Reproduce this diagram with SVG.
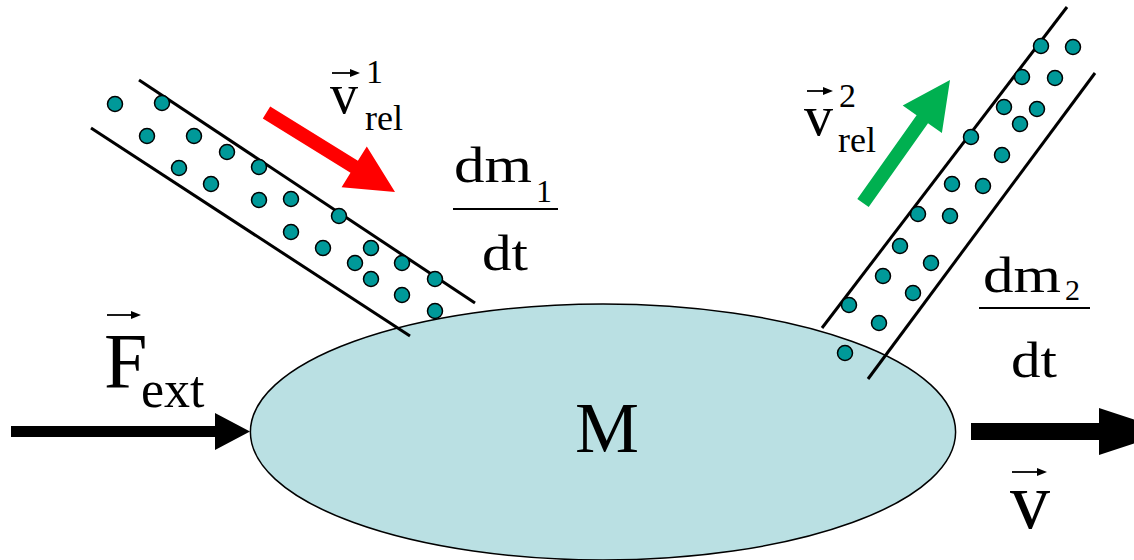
<svg xmlns="http://www.w3.org/2000/svg" width="1134" height="560" viewBox="0 0 1134 560">
<style>
text{font-family:'Liberation Serif','Tinos','Times New Roman','Times','Nimbus Roman','FreeSerif','Noto Serif','DejaVu Serif',serif;fill:#000}
.tube{stroke:#000;stroke-width:3;fill:none}
.dot{fill:#009999;stroke:#000;stroke-width:1.5}
.vec{stroke:#000;stroke-width:1.8;fill:none}
.vh{fill:#000}
</style>
<rect width="1134" height="560" fill="#fff"/>
<g id="mass">
<ellipse cx="603" cy="432" rx="352.6" ry="128" fill="#BAE0E3" stroke="#000" stroke-width="1.5"/>
<text x="607" y="452" font-size="72" text-anchor="middle">M</text>
</g>
<g id="tube1">
<line class="tube" x1="139" y1="80" x2="475" y2="303"/>
<line class="tube" x1="91" y1="128" x2="410" y2="336"/>
<circle class="dot" cx="115" cy="104" r="7.5"/>
<circle class="dot" cx="162" cy="103" r="7.5"/>
<circle class="dot" cx="147" cy="136" r="7.5"/>
<circle class="dot" cx="194" cy="136" r="7.5"/>
<circle class="dot" cx="227" cy="152" r="7.5"/>
<circle class="dot" cx="259" cy="167" r="7.5"/>
<circle class="dot" cx="179" cy="168" r="7.5"/>
<circle class="dot" cx="211" cy="184" r="7.5"/>
<circle class="dot" cx="259" cy="200" r="7.5"/>
<circle class="dot" cx="291" cy="199" r="7.5"/>
<circle class="dot" cx="339" cy="216" r="7.5"/>
<circle class="dot" cx="291" cy="232" r="7.5"/>
<circle class="dot" cx="323" cy="248" r="7.5"/>
<circle class="dot" cx="371" cy="248" r="7.5"/>
<circle class="dot" cx="355" cy="263" r="7.5"/>
<circle class="dot" cx="402" cy="263" r="7.5"/>
<circle class="dot" cx="371" cy="279" r="7.5"/>
<circle class="dot" cx="435" cy="279" r="7.5"/>
<circle class="dot" cx="402" cy="295" r="7.5"/>
<circle class="dot" cx="435" cy="311" r="7.5"/>
</g>
<g id="tube2">
<line class="tube" x1="822" y1="328" x2="1067" y2="7"/>
<line class="tube" x1="868" y1="379" x2="1095" y2="73"/>
<circle class="dot" cx="1041" cy="46" r="7.5"/>
<circle class="dot" cx="1073" cy="47" r="7.5"/>
<circle class="dot" cx="1022" cy="77" r="7.5"/>
<circle class="dot" cx="1055" cy="78" r="7.5"/>
<circle class="dot" cx="1004" cy="107" r="7.5"/>
<circle class="dot" cx="1037" cy="109" r="7.5"/>
<circle class="dot" cx="1020" cy="124" r="7.5"/>
<circle class="dot" cx="971" cy="137" r="7.5"/>
<circle class="dot" cx="1002" cy="155" r="7.5"/>
<circle class="dot" cx="952" cy="184" r="7.5"/>
<circle class="dot" cx="983" cy="186" r="7.5"/>
<circle class="dot" cx="918" cy="214" r="7.5"/>
<circle class="dot" cx="950" cy="216" r="7.5"/>
<circle class="dot" cx="900" cy="246" r="7.5"/>
<circle class="dot" cx="931" cy="263" r="7.5"/>
<circle class="dot" cx="883" cy="276" r="7.5"/>
<circle class="dot" cx="913" cy="293" r="7.5"/>
<circle class="dot" cx="849" cy="305" r="7.5"/>
<circle class="dot" cx="879" cy="323" r="7.5"/>
<circle class="dot" cx="845" cy="353" r="7.5"/>
</g>
<g id="connectors">
<polygon points="11,426 215,426 215,413 250,431.5 215,450 215,437 11,437" fill="#000"/>
<polygon points="971,423 1099,423 1099,408 1170,431.5 1099,455 1099,440 971,440" fill="#000"/>
<polygon points="270.2,106.5 357.9,160.8 366.8,146.4 395,192 341.6,187.2 350.5,172.8 262.8,118.5" fill="#FF0000"/>
<polygon points="857.3,199 916.6,115.2 902.7,105.4 950,80 941.9,133 928,123.2 868.7,207" fill="#00B050"/>
</g>
<g id="label-fext">
<line class="vec" x1="107" y1="315" x2="134" y2="315"/>
<polygon class="vh" points="131,311 141,315 131,319"/>
<text x="104" y="387" font-size="78">F</text>
<text x="141" y="407" font-size="52">ext</text>
</g>
<g id="label-v">
<line class="vec" x1="1012" y1="472" x2="1040" y2="472"/>
<polygon class="vh" points="1037,468 1047,472 1037,476"/>
<text x="1010" y="528" font-size="80">v</text>
</g>
<g id="label-vrel1">
<line class="vec" x1="332" y1="73" x2="353" y2="73"/>
<polygon class="vh" points="350,69 360,73 350,77"/>
<text x="330" y="113" font-size="56">v</text>
<text x="366" y="83" font-size="34">1</text>
<text x="365" y="130" font-size="36">rel</text>
</g>
<g id="label-vrel2">
<line class="vec" x1="807" y1="91" x2="826" y2="91"/>
<polygon class="vh" points="823,87 833,91 823,95"/>
<text x="804" y="135" font-size="58">v</text>
<text x="839" y="107" font-size="34">2</text>
<text x="838" y="152" font-size="36">rel</text>
</g>
<g id="label-dm1">
<text x="454" y="182" font-size="51" textLength="78" lengthAdjust="spacingAndGlyphs">dm</text>
<text x="536" y="202" font-size="32">1</text>
<line x1="453" y1="209" x2="558" y2="209" stroke="#000" stroke-width="2"/>
<text x="482" y="270" font-size="51" textLength="46" lengthAdjust="spacingAndGlyphs">dt</text>
</g>
<g id="label-dm2">
<text x="983" y="292" font-size="51" textLength="78" lengthAdjust="spacingAndGlyphs">dm</text>
<text x="1065" y="300" font-size="30">2</text>
<line x1="979" y1="308" x2="1090" y2="308" stroke="#000" stroke-width="2"/>
<text x="1011" y="377" font-size="51" textLength="46" lengthAdjust="spacingAndGlyphs">dt</text>
</g>
</svg>
